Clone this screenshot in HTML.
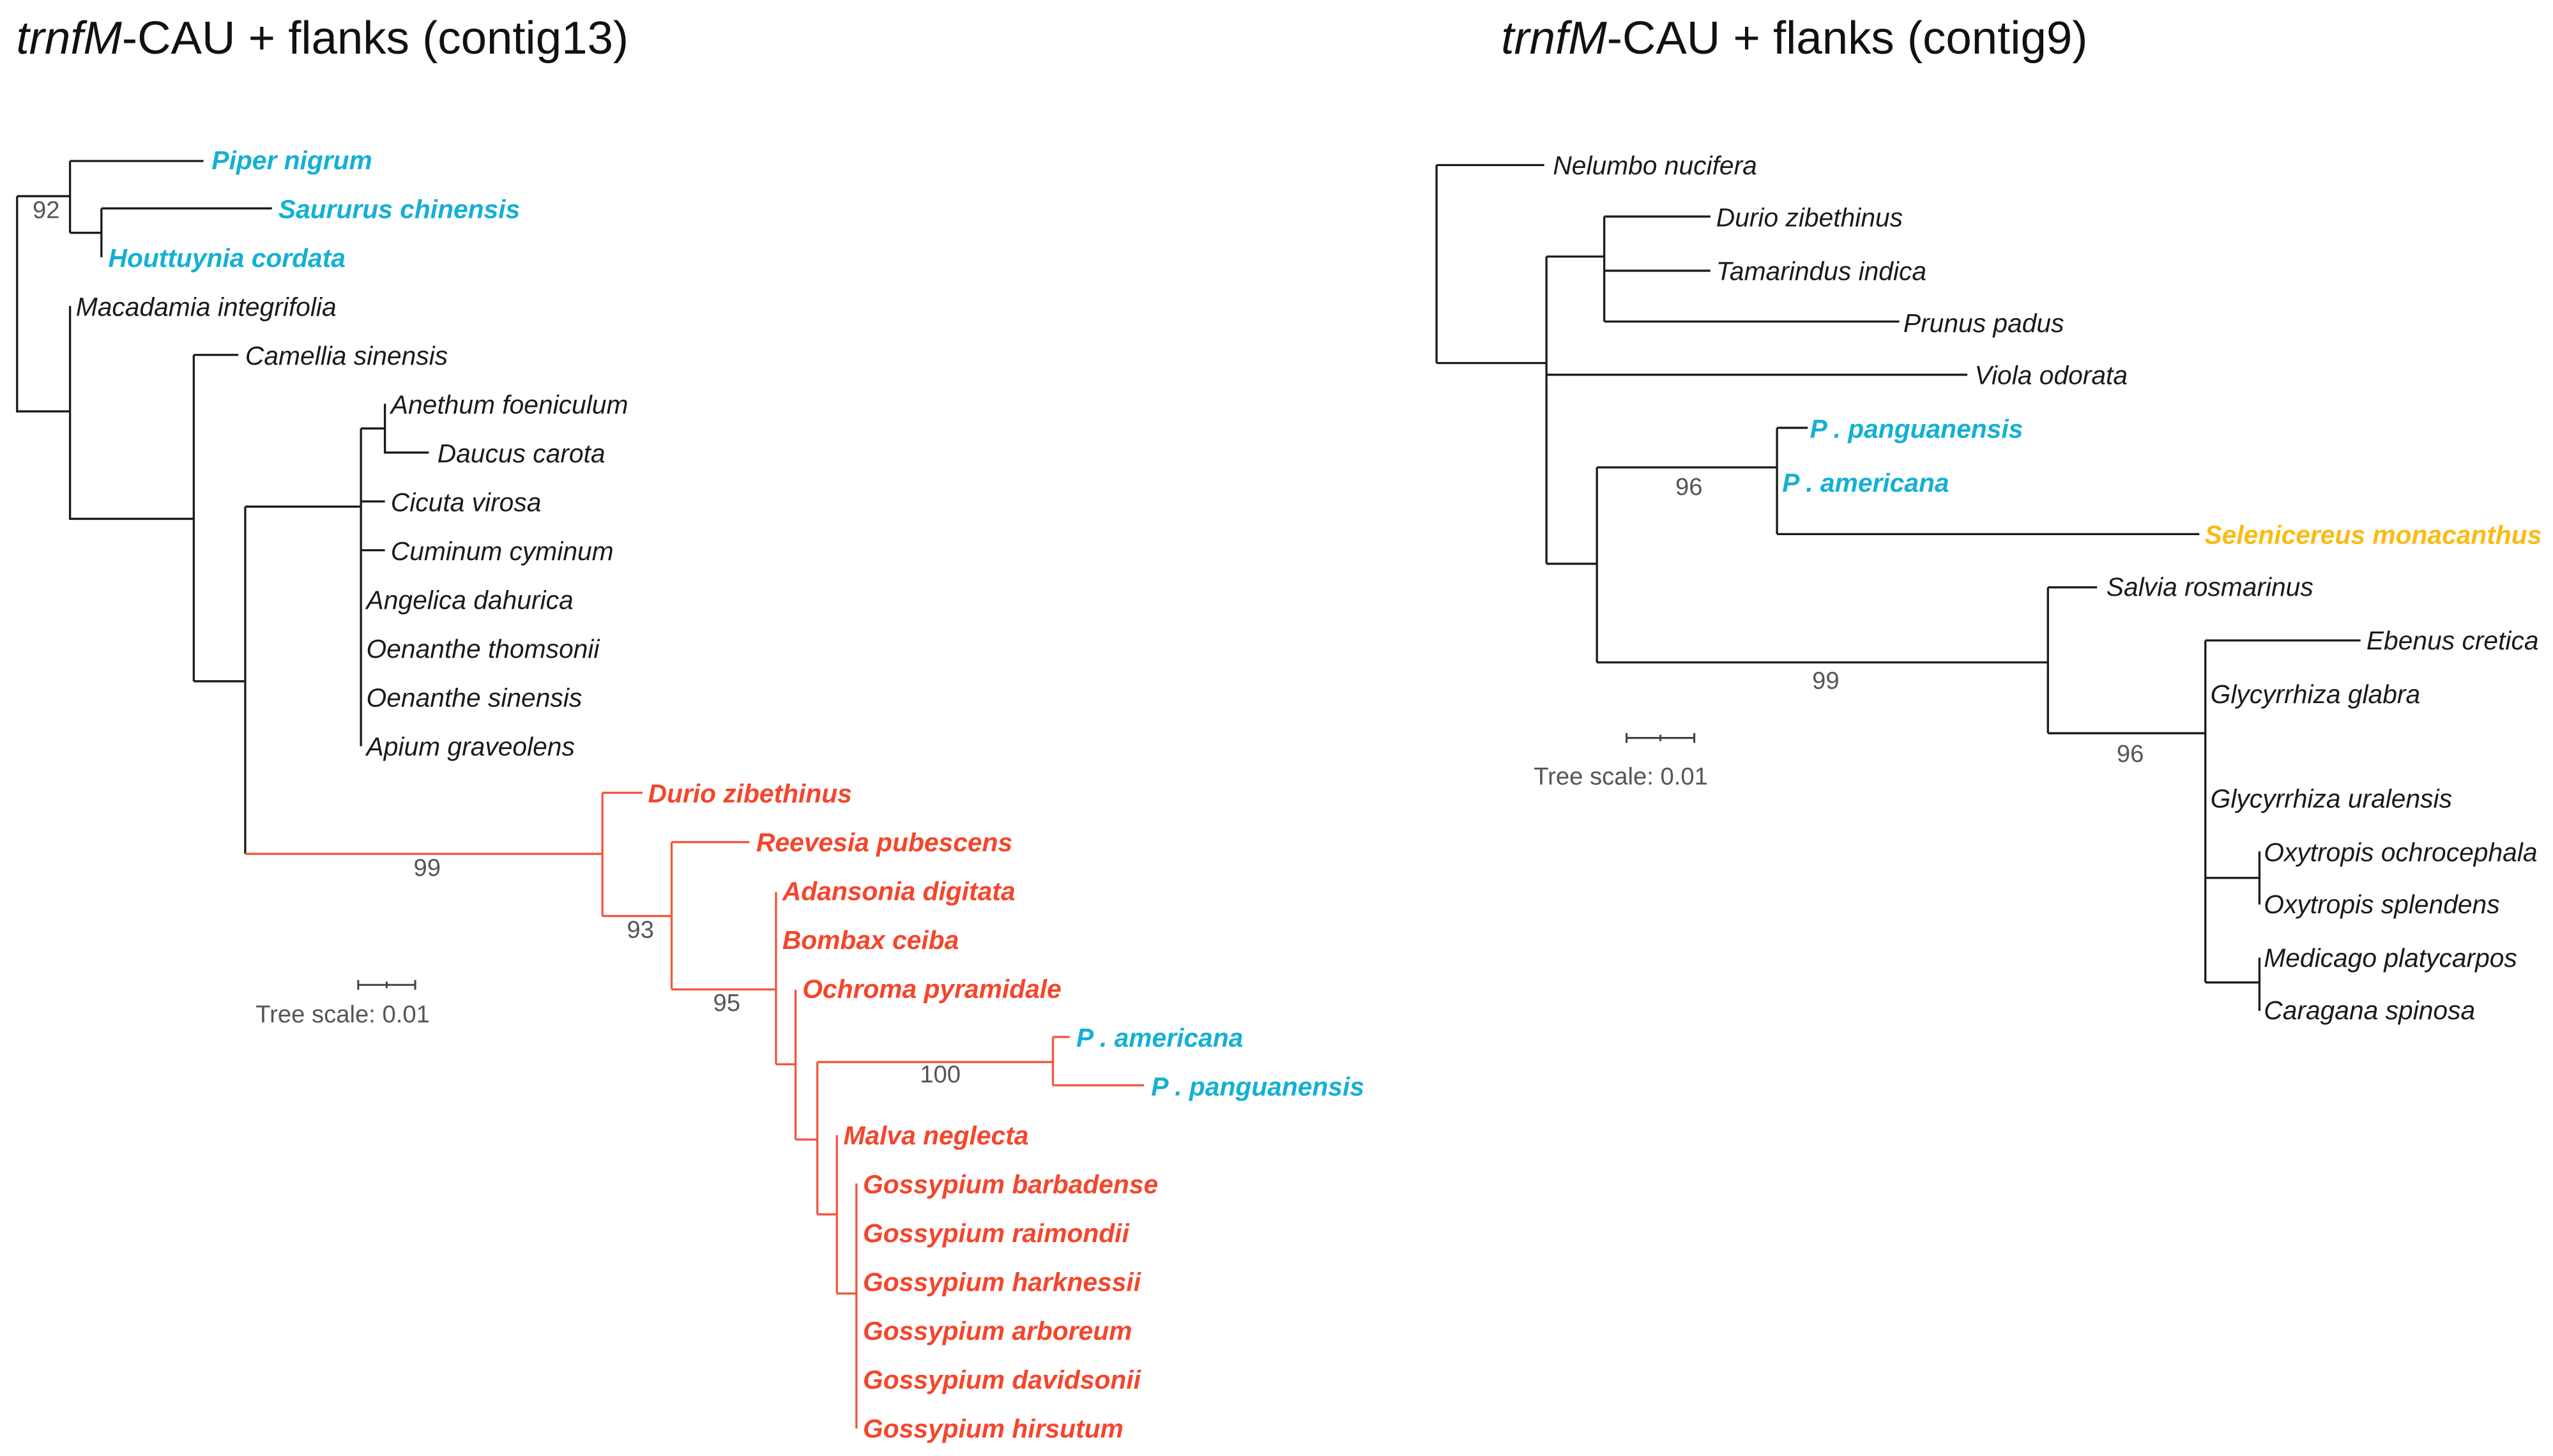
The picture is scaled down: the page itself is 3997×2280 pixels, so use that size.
<!DOCTYPE html>
<html><head><meta charset="utf-8"><style>
html,body{margin:0;padding:0;background:#fff;}
svg{display:block;}
text{font-family:"Liberation Sans","DejaVu Sans",sans-serif;}
.b{fill:#1a1a1a;font-style:italic;font-size:16px;}
.c{fill:#14b0d4;font-style:italic;font-weight:bold;font-size:16px;}
.r{fill:#f4462c;font-style:italic;font-weight:bold;font-size:16px;}
.y{fill:#fbbb14;font-style:italic;font-weight:bold;font-size:16px;}
.n{fill:#555;font-size:15px;}
.t{fill:#111;font-size:28.5px;}
</style></head><body>
<svg width="3997" height="2280" viewBox="0 0 1568 894.4" xmlns="http://www.w3.org/2000/svg">
<text class="t" x="10" y="33"><tspan font-style="italic">trnfM</tspan>-CAU + flanks (contig13)</text>
<text class="t" x="922" y="33"><tspan font-style="italic">trnfM</tspan>-CAU + flanks (contig9)</text>

<g stroke="#1a1a1a" stroke-width="1.3" fill="none">
<path d="M10.5 120.5V252.7H43M10.5 120.5H43M43 98.9V143M43 98.9H125M43 143H62.3M62.3 128V158M62.3 128H167"/>
<path d="M43 188V318.7H119M119 218V418.5M119 218H146.4M119 418.5H150.6M150.6 311.2V524.5M150.6 311.2H221.7M221.7 263.2V458.4M221.7 263.2H236.4M236.4 248V278H263.4M221.7 308H236.4M221.7 338H236.4"/>
<path d="M882.3 101.4V223M882.3 101.4H948.4M882.3 223H949.8M949.8 157.6V346.3M949.8 157.6H985.3M985.3 133V197.5M985.3 133H1050.5M985.3 166.3H1050.5M985.3 197.5H1166.5M949.8 230.2H1208.3M949.8 346.3H980.8M980.8 287.1V406.9M980.8 287.1H1091.4M1091.4 262.8V328.1M1091.4 262.8H1110.3M1091.4 328.1H1350.8M980.8 406.9H1257.8M1257.8 360.8V450.4M1257.8 360.8H1288M1257.8 450.4H1354.5M1354.5 393.4V603.5M1354.5 393.4H1449.8M1354.5 539.3H1387.7M1387.7 523V555.6M1354.5 603.5H1387.7M1387.7 588.3V621"/>
</g>
<g stroke="#f4563c" stroke-width="1.3" fill="none">
<path d="M150.6 524.5H370M370 487V562.7M370 487H394.6M370 562.7H412.5M412.5 517.3V607.8M412.5 517.3H460.3M412.5 607.8H476.6M476.6 547.8V653.8M476.6 653.8H488.6M488.6 608V700M488.6 700H502M502 652.4V746M502 652.4H646.7M646.7 637V666.7M646.7 637H657M646.7 666.7H702.6M502 746H514M514 697.3V794.6M514 794.6H526M526 727V877.5"/>
</g>
<g stroke="#444" stroke-width="1.2" fill="none">
<path d="M220 605H255M220 602V608M237.5 603V607M255 602V608"/>
<path d="M999 453.3H1040.6M999 450.3V456.3M1019.8 451.3V455.3M1040.6 450.3V456.3"/>
</g>
<text class="n" x="157" y="628">Tree scale: 0.01</text>
<text class="n" x="942" y="482">Tree scale: 0.01</text>

<text class="n" x="20" y="134">92</text>
<text class="n" x="254" y="538">99</text>
<text class="n" x="385" y="576">93</text>
<text class="n" x="438" y="621">95</text>
<text class="n" x="565" y="665">100</text>
<text class="n" x="1029" y="304">96</text>
<text class="n" x="1113" y="423">99</text>
<text class="n" x="1300" y="468">96</text>

<text class="c" x="130" y="104">Piper nigrum</text>
<text class="c" x="171" y="134">Saururus chinensis</text>
<text class="c" x="66.5" y="164">Houttuynia cordata</text>
<text class="b" x="46.6" y="194">Macadamia integrifolia</text>
<text class="b" x="150.6" y="224">Camellia sinensis</text>
<text class="b" x="240" y="254">Anethum foeniculum</text>
<text class="b" x="268.6" y="284">Daucus carota</text>
<text class="b" x="240" y="314">Cicuta virosa</text>
<text class="b" x="240" y="344">Cuminum cyminum</text>
<text class="b" x="225" y="374">Angelica dahurica</text>
<text class="b" x="225" y="404">Oenanthe thomsonii</text>
<text class="b" x="225" y="434">Oenanthe sinensis</text>
<text class="b" x="225" y="464">Apium graveolens</text>
<text class="r" x="398" y="493">Durio zibethinus</text>
<text class="r" x="464.5" y="523">Reevesia pubescens</text>
<text class="r" x="480.5" y="553">Adansonia digitata</text>
<text class="r" x="480.5" y="583">Bombax ceiba</text>
<text class="r" x="492.8" y="613">Ochroma pyramidale</text>
<text class="c" x="661" y="643">P . americana</text>
<text class="c" x="707" y="673">P . panguanensis</text>
<text class="r" x="518" y="703">Malva neglecta</text>
<text class="r" x="530" y="733">Gossypium barbadense</text>
<text class="r" x="530" y="763">Gossypium raimondii</text>
<text class="r" x="530" y="793">Gossypium harknessii</text>
<text class="r" x="530" y="823">Gossypium arboreum</text>
<text class="r" x="530" y="853">Gossypium davidsonii</text>
<text class="r" x="530" y="883">Gossypium hirsutum</text>

<text class="b" x="953.8" y="107">Nelumbo nucifera</text>
<text class="b" x="1054" y="139">Durio zibethinus</text>
<text class="b" x="1054" y="172">Tamarindus indica</text>
<text class="b" x="1169" y="204">Prunus padus</text>
<text class="b" x="1212.8" y="236">Viola odorata</text>
<text class="c" x="1111.6" y="269">P . panguanensis</text>
<text class="c" x="1094.6" y="302">P . americana</text>
<text class="y" x="1354" y="334">Selenicereus monacanthus</text>
<text class="b" x="1293.7" y="366">Salvia rosmarinus</text>
<text class="b" x="1453.4" y="399">Ebenus cretica</text>
<text class="b" x="1357.6" y="432">Glycyrrhiza glabra</text>
<text class="b" x="1357.6" y="496">Glycyrrhiza uralensis</text>
<text class="b" x="1390.4" y="529">Oxytropis ochrocephala</text>
<text class="b" x="1390.4" y="561">Oxytropis splendens</text>
<text class="b" x="1390.4" y="594">Medicago platycarpos</text>
<text class="b" x="1390.4" y="626">Caragana spinosa</text>
</svg>
</body></html>
